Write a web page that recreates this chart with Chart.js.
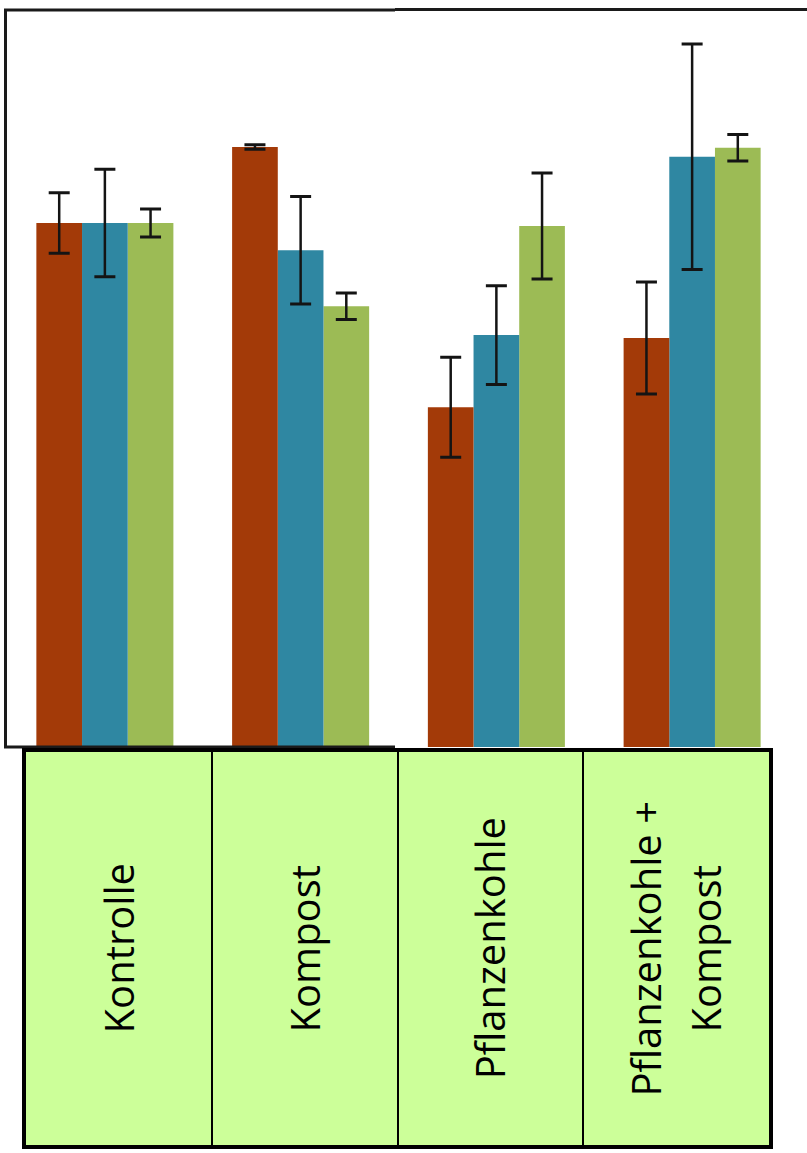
<!DOCTYPE html>
<html>
<head>
<meta charset="utf-8">
<script src="https://cdn.jsdelivr.net/npm/chart.js@4/dist/chart.umd.min.js"></script>
<style>
  html, body { margin:0; padding:0; background:#fff; }
  #wrap { position:relative; width:807px; height:1153px; overflow:hidden; }
  #c { position:absolute; left:0; top:0; }
  #tbl { position:absolute; left:22px; top:748px; width:743px; height:393px;
         border:4px solid #000; background:#CCFF99; }
  .cell { position:absolute; top:0; height:100%; display:flex; align-items:center; justify-content:center; }
  .div { position:absolute; top:0; width:2px; height:100%; background:#000; }
  .lbl { writing-mode:vertical-rl; transform:rotate(180deg); font-family:"Open Sans", sans-serif;
         font-size:40px; line-height:60px; color:#000; text-align:center; white-space:nowrap; }
</style>
</head>
<body>
<div id="wrap">
  <canvas id="c" width="807" height="760"></canvas>
  <div id="tbl"></div>
</div>
<script>
const categories = ["Kontrolle", "Kompost", "Pflanzenkohle", "Pflanzenkohle +\nKompost"];
const seriesRed   = [71.1, 81.4, 46.1, 55.5];
const errRed      = [4.1, 0.3, 6.8, 7.6];
const seriesBlue  = [71.1, 67.4, 55.9, 80.1];
const errBlue     = [7.3, 7.3, 6.7, 15.3];
const seriesGreen = [71.1, 59.8, 70.7, 81.3];
const errGreen    = [1.9, 1.8, 7.2, 1.8];
const colors = ["#A33A08", "#2F87A2", "#9CBB55"];

const errors = [errRed, errBlue, errGreen];

const errorBarPlugin = {
  id: 'errorBars',
  afterDatasetsDraw(chart) {
    const ctx = chart.ctx;
    const ys = chart.scales.y;
    ctx.save();
    ctx.strokeStyle = '#141414';
    chart.data.datasets.forEach((ds, i) => {
      const meta = chart.getDatasetMeta(i);
      meta.data.forEach((bar, j) => {
        const v = ds.data[j], e = errors[i][j];
        const yTop = ys.getPixelForValue(v + e);
        const yBot = ys.getPixelForValue(v - e);
        const x = bar.x;
        ctx.lineWidth = 2.5;
        ctx.beginPath();
        ctx.moveTo(x, yTop); ctx.lineTo(x, yBot);
        ctx.stroke();
        ctx.lineWidth = 3;
        ctx.beginPath();
        ctx.moveTo(x - 10.5, yTop); ctx.lineTo(x + 10.5, yTop);
        ctx.moveTo(x - 10.5, yBot); ctx.lineTo(x + 10.5, yBot);
        ctx.stroke();
      });
    });
    ctx.restore();
  }
};

const framePlugin = {
  id: 'frame',
  afterDraw(chart) {
    const ctx = chart.ctx;
    ctx.save();
    ctx.strokeStyle = '#1a1a1a';
    ctx.lineWidth = 3;
    ctx.beginPath();
    ctx.moveTo(5.5, 747); ctx.lineTo(5.5, 10); ctx.lineTo(395, 10);
    ctx.moveTo(395, 9.5); ctx.lineTo(807, 9.5);
    ctx.moveTo(4, 747); ctx.lineTo(395, 747);
    ctx.stroke();
    ctx.restore();
  }
};

new Chart(document.getElementById('c'), {
  type: 'bar',
  data: {
    labels: categories,
    datasets: [
      { data: seriesRed, backgroundColor: colors[0] },
      { data: seriesBlue, backgroundColor: colors[1] },
      { data: seriesGreen, backgroundColor: colors[2] }
    ]
  },
  options: {
    responsive: false,
    devicePixelRatio: 1,
    animation: false,
    layout: { padding: { left: 7, right: 17, top: 10, bottom: 13 } },
    datasets: { bar: { barPercentage: 1.0, categoryPercentage: 0.70 } },
    plugins: { legend: { display: false }, tooltip: { enabled: false } },
    scales: {
      x: { display: false },
      y: { display: false, min: 0, max: 100 }
    }
  },
  plugins: [errorBarPlugin, framePlugin]
});

// table of category labels
const tbl = document.getElementById('tbl');
const colW = 743 / categories.length;
categories.forEach((name, i) => {
  const cell = document.createElement('div');
  cell.className = 'cell';
  cell.style.left = (i * colW) + 'px';
  cell.style.width = colW + 'px';
  const lbl = document.createElement('div');
  lbl.className = 'lbl';
  name.split('\n').forEach((line, k) => {
    if (k) lbl.appendChild(document.createElement('br'));
    lbl.appendChild(document.createTextNode(line));
  });
  cell.appendChild(lbl);
  tbl.appendChild(cell);
  if (i > 0) {
    const d = document.createElement('div');
    d.className = 'div';
    d.style.left = (i * colW - 1) + 'px';
    tbl.appendChild(d);
  }
});
</script>
</body>
</html>
